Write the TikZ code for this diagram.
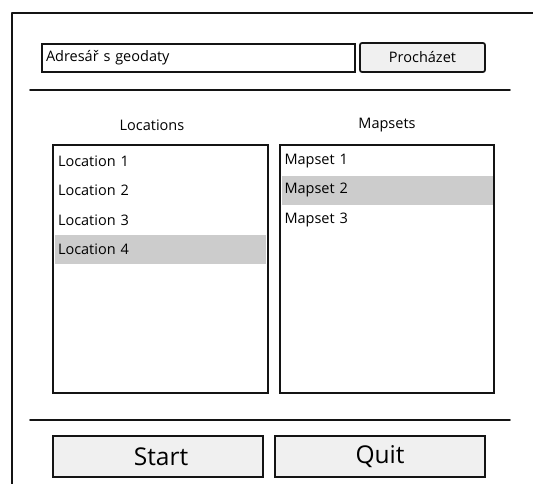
\documentclass[tikz,border=0pt]{standalone}
\usepackage{fontspec}
\setmainfont{Open Sans}
\usetikzlibrary{positioning}
\definecolor{Cbtn}{RGB}{240,240,240}
\definecolor{Csel}{RGB}{204,204,204}
\definecolor{Cink}{RGB}{20,20,20}
\tikzset{
  frm/.style={draw=Cink, line width=1.8pt, line join=round, line cap=round},
  sep/.style={draw=Cink, line width=1.8pt, line cap=round},
  fld/.style={
    draw=Cink, fill=white, line width=1.7pt,
    minimum height=28pt, text width=305pt, inner xsep=4pt,
    align=left, font=\fontsize{14.5}{17}\selectfont
  },
  btn/.style={
    draw=Cink, fill=Cbtn, line width=1.7pt, rounded corners=2pt,
    minimum height=29pt, minimum width=125pt, inner sep=2pt,
    font=\fontsize{14.5}{17}\selectfont
  },
  bigbtn/.style={
    draw=Cink, fill=Cbtn, line width=1.7pt,
    minimum height=41pt, minimum width=210pt, inner sep=2pt,
    font=\fontsize{24.5}{28}\selectfont
  },
  lst/.style={
    draw=Cink, line width=1.8pt,
    minimum height=248pt, inner sep=0pt
  },
  ttl/.style={font=\fontsize{14.5}{17}\selectfont},
  row/.style={
    text width=205pt, inner xsep=3pt, inner ysep=0pt,
    minimum height=29pt, align=left,
    font=\fontsize{14.5}{17}\selectfont
  },
  sel/.style={fill=Csel}
}
\begin{document}
\begin{tikzpicture}[x=1pt, y=-1pt]
\useasboundingbox (0,0) rectangle (533,484);

% ─────────────────────────────────────────────────────────────────────────────
%  WINDOW frame
% ─────────────────────────────────────────────────────────────────────────────
\coordinate (wbl) at (12,484);
\coordinate (wtl) at (12,13);
\coordinate (wtr) at (533,13);
\draw[frm] (wbl) -- (wtl) -- (wtr);

% ─────────────────────────────────────────────────────────────────────────────
%  ROW 0  Directory field + browse button
% ─────────────────────────────────────────────────────────────────────────────
\node[fld] (dir) at (198.5,58) {Adresář s geodaty};
\node[btn] (browse) at (422.5,57.5) {Procházet};

\coordinate (s1l) at (30,90);
\coordinate (s1r) at (510,90);
\draw[sep] (s1l) -- (s1r);

% ─────────────────────────────────────────────────────────────────────────────
%  ROW 1  Lists
% ─────────────────────────────────────────────────────────────────────────────
\node[ttl] (tloc) at (152,125) {Locations};
\node[ttl] (tmap) at (387,125) {Mapsets};

% left list
\node[row] (loc1) at (160.5,161) {Location 1};
\node[row, below=0pt of loc1] (loc2) {Location 2};
\node[row, below=0pt of loc2] (loc3) {Location 3};
\node[row, sel, below=0pt of loc3] (loc4) {Location 4};
\node[lst, minimum width=215pt] (llist) at (160.5,269) {};

% right list
\node[row] (map1) at (387,161) {Mapset 1};
\node[row, sel, below=0pt of map1] (map2) {Mapset 2};
\node[row, below=0pt of map2] (map3) {Mapset 3};
\node[lst, minimum width=214pt] (rlist) at (387,269) {};

\coordinate (s2l) at (30,420);
\coordinate (s2r) at (510,420);
\draw[sep] (s2l) -- (s2r);

% ─────────────────────────────────────────────────────────────────────────────
%  ROW 2  Buttons
% ─────────────────────────────────────────────────────────────────────────────
\node[bigbtn] (start) at (158,456.5) {\hspace{6pt}Start};
\node[bigbtn] (quit) at (380,456.5) {Quit};

\end{tikzpicture}
\end{document}
